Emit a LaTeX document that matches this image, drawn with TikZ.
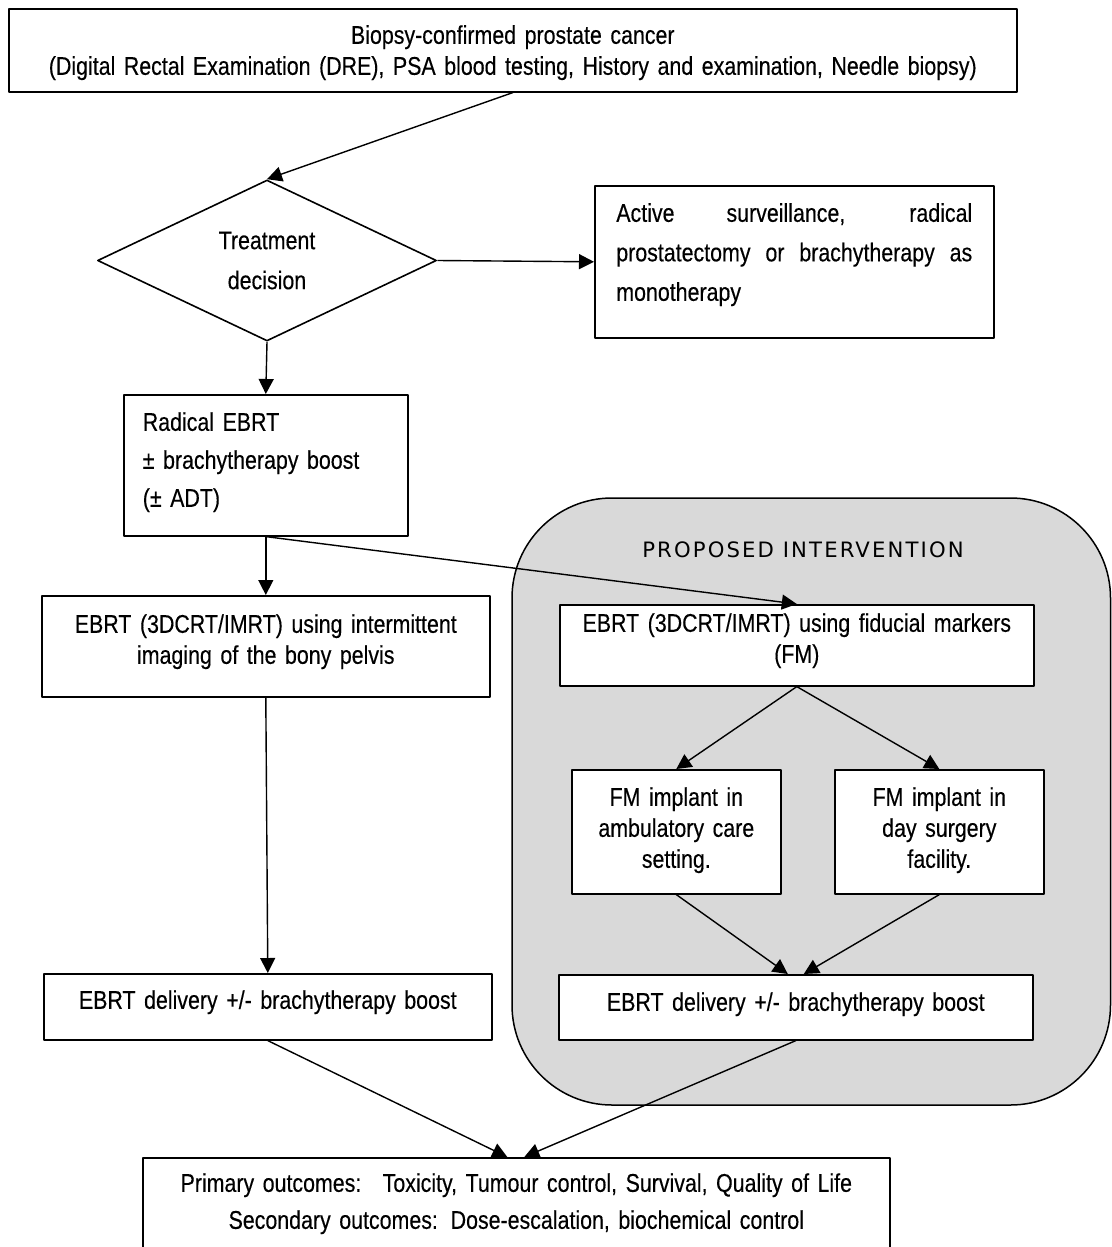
\documentclass[tikz,border=0pt]{standalone}
\usepackage{fontspec}
\setmainfont{Liberation Sans}[FakeStretch=0.835,WordSpace=0.7,FakeBold=0.3]
\newfontfamily\propfont{DejaVu Sans}[LetterSpace=10]
\usetikzlibrary{arrows.meta,shapes.geometric}

\begin{document}
\begin{tikzpicture}[x=1pt,y=-1pt,line join=round,
			>={Triangle[length=15pt,width=15pt]},
			box/.style={draw,fill=white,line width=1.6pt,inner sep=0pt,anchor=north west,align=center,font=\fontsize{25.6}{31}\selectfont},
			decbox/.style={draw,diamond,fill=white,line width=1.6pt,inner sep=0pt,aspect=2.1,minimum width=339pt,minimum height=161pt,align=center,font=\fontsize{25.6}{40}\selectfont},
			con/.style={->,line width=1.4pt}]
			\useasboundingbox (0,0) rectangle (1111,1247);
			\draw[fill=black!15,line width=1.5pt,rounded corners=100pt] (512,498) rectangle (1110.5,1105);
			\node[font=\propfont\fontsize{21.2}{24}\selectfont] (proposed) at (803,550) {PROPOSED INTERVENTION};
			\node[box,text width=1008pt,text height=35pt,text depth=48pt] (biopsy) at (8,8)
				{Biopsy-confirmed prostate cancer\\(Digital Rectal Examination (DRE), PSA blood testing, History and examination, Needle biopsy)};
			\node[decbox] (decision) at (267,260.5) {Treatment\\decision};
			\node[box,align=justify,inner xsep=21.5pt,text width=356pt,text height=36pt,text depth=116pt,font=\fontsize{25.6}{39.5}\selectfont] (active) at (594,185)
				{Active surveillance, radical\linebreak prostatectomy or brachytherapy as\linebreak monotherapy};
			\node[box,align=left,inner xsep=19pt,text width=246pt,text height=36pt,text depth=105pt,font=\fontsize{25.6}{38}\selectfont] (radical) at (123,394)
				{Radical EBRT\\± brachytherapy boost\\(± ADT)};
			\node[box,text width=448pt,text height=37pt,text depth=64pt] (ebrtbony) at (41,595) {EBRT (3DCRT/IMRT) using intermittent\\imaging of the bony pelvis};
			\node[box,text width=474pt,text height=27pt,text depth=54pt] (ebrtfm) at (559,604) {EBRT (3DCRT/IMRT) using fiducial markers\\(FM)};
			\node[box,text width=209pt,text height=36pt,text depth=88pt] (amb) at (571,769) {FM implant in\\ambulatory care\\setting.};
			\node[box,text width=209pt,text height=36pt,text depth=88pt] (day) at (834,769) {FM implant in\\day surgery\\facility.};
			\node[box,text width=448pt,text height=35pt,text depth=31pt] (delstd) at (43,973) {EBRT delivery +/- brachytherapy boost};
			\node[box,text width=474pt,text height=36pt,text depth=29pt] (delfm) at (558,974) {EBRT delivery +/- brachytherapy boost};
			\node[box,text width=747pt,text height=34pt,text depth=75pt,font=\fontsize{25.6}{37}\selectfont] (outcomes) at (142,1157)
				{Primary outcomes:~ Toxicity, Tumour control, Survival, Quality of Life\\Secondary outcomes: Dose-escalation, biochemical control};
			\draw[con] (biopsy.south) -- (decision.north);
			\draw[con] (decision.east) -- (active.west);
			\draw[con] (decision.south) -- (radical.north);
			\draw[con] (radical.south) -- (ebrtbony.north);
			\draw[con] (radical.south) -- (ebrtfm.north);
			\draw[con] (ebrtbony.south) -- (delstd.north);
			\draw[con] (ebrtfm.south) -- (amb.north);
			\draw[con] (ebrtfm.south) -- (day.north);
			\draw[con] (amb.south) -- ([xshift=-8pt]delfm.north);
			\draw[con] (day.south) -- ([xshift=8pt]delfm.north);
			\draw[con] (delstd.south) -- ([xshift=-9pt]outcomes.north);
			\draw[con] (delfm.south) -- ([xshift=8pt]outcomes.north);
		\end{tikzpicture}
\end{document}
